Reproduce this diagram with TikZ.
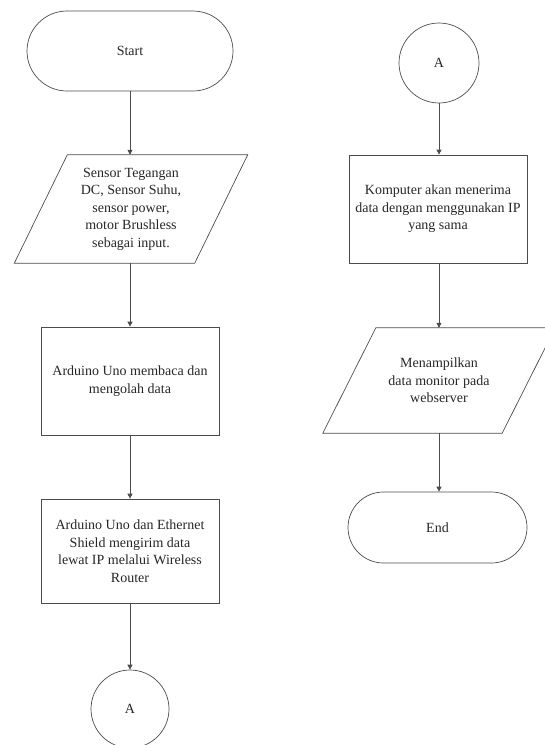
\documentclass[tikz,border=0pt]{standalone}
\usepackage{fontspec}
\setmainfont{Liberation Serif}
\usetikzlibrary{shapes.misc,arrows.meta}
\begin{document}
\begin{tikzpicture}[x=1pt,y=-1pt,
  every node/.style={font=\fontsize{14}{17.5}\selectfont, align=center, text=black!85},
  lineclr/.style={draw=black!70, line width=0.7pt},
  terminal/.style={lineclr, rounded rectangle, minimum height=#1, inner sep=0pt},
  procbox/.style={lineclr, rectangle, inner sep=0pt},
  iobox/.style={rectangle, inner sep=0pt},
  connector/.style={lineclr, circle, inner sep=0pt, minimum size=#1},
  flow/.style={lineclr, -{Triangle[length=5pt,width=5pt]}}
]
\useasboundingbox (0,0) rectangle (545,745);

% left column
\node[terminal=80pt, minimum width=206pt] (start) at (130,51) {Start};
\node[iobox, minimum width=180pt, minimum height=108pt] (in1) at (131,209)
  {Sensor Tegangan\\DC, Sensor Suhu,\\sensor power,\\motor Brushless\\sebagai input.};
\draw[lineclr] ([xshift=26.5pt]in1.north west) -- ([xshift=26.5pt]in1.north east)
  -- ([xshift=-26.5pt]in1.south east) -- ([xshift=-26.5pt]in1.south west) -- cycle;
\node[procbox, minimum width=178pt, minimum height=108pt] (p1) at (130,381)
  {Arduino Uno membaca dan\\mengolah data};
\node[procbox, minimum width=178pt, minimum height=104pt] (p2) at (130,551)
  {Arduino Uno dan Ethernet\\Shield mengirim data\\lewat IP melalui Wireless\\Router};
\node[connector=78pt] (a1) at (130,709) {A};

% right column
\node[connector=80pt] (a2) at (439,63) {A};
\node[procbox, minimum width=178pt, minimum height=108pt] (p3) at (438,209)
  {Komputer akan menerima\\data dengan menggunakan IP\\yang sama};
\node[iobox, minimum width=179pt, minimum height=105pt] (out1) at (439,380.5)
  {Menampilkan\\data monitor pada\\webserver};
\draw[lineclr] ([xshift=26.5pt]out1.north west) -- ([xshift=26.5pt]out1.north east)
  -- ([xshift=-26.5pt]out1.south east) -- ([xshift=-26.5pt]out1.south west) -- cycle;
\node[terminal=71pt, minimum width=179pt] (end) at (437.5,527.5) {End};

% connectors
\draw[flow] (start.south) -- (start.south |- in1.north);
\draw[flow] (in1.south -| p1.north) -- (p1.north);
\draw[flow] (p1.south) -- (p2.north);
\draw[flow] (p2.south) -- (a1.north);
\draw[flow] (a2.south) -- (a2.south |- p3.north);
\draw[flow] (p3.south -| out1.north) -- (out1.north);
\draw[flow] (out1.south) -- (out1.south |- end.north);
\end{tikzpicture}
\end{document}
